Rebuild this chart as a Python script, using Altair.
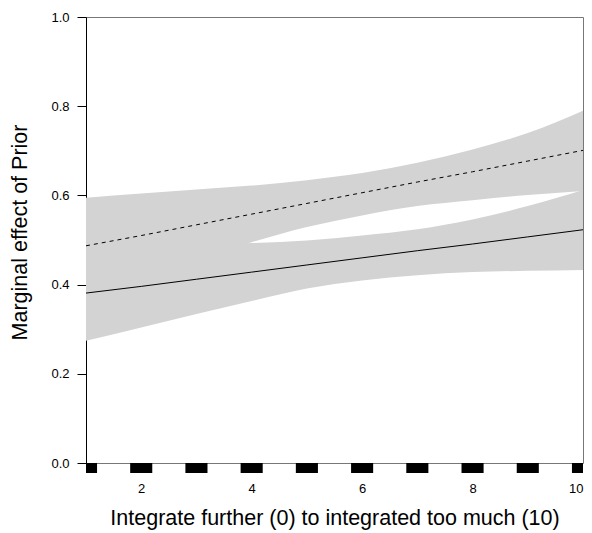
import altair as alt
import pandas as pd

# ---- data ----
x_vals = [1, 2, 3, 4, 5, 6, 7, 8, 9, 10]
solid_fit = [0.381, 0.396, 0.412, 0.428, 0.444, 0.460, 0.476, 0.491, 0.507, 0.523]
solid_lo = [0.274, 0.304, 0.334, 0.363, 0.391, 0.409, 0.421, 0.428, 0.431, 0.433]
solid_hi = [0.488, 0.487, 0.489, 0.493, 0.499, 0.510, 0.524, 0.546, 0.576, 0.612]
dashed_fit = [0.487, 0.510, 0.534, 0.558, 0.582, 0.606, 0.630, 0.653, 0.677, 0.701]
dashed_lo = [0.378, 0.419, 0.458, 0.495, 0.529, 0.555, 0.576, 0.589, 0.601, 0.610]
dashed_hi = [0.595, 0.604, 0.613, 0.622, 0.634, 0.650, 0.673, 0.703, 0.740, 0.790]
rug_x = [1, 2, 3, 4, 5, 6, 7, 8, 9, 10]
x_ticks = [2, 4, 6, 8, 10]
y_ticks = [0.0, 0.2, 0.4, 0.6, 0.8, 1.0]

x_title = "Integrate further (0) to integrated too much (10)"
y_title = "Marginal effect of Prior"

FONT = "Liberation Sans"
BAND = "#D3D3D3"
FRAME = "#777777"
JIT = 0.2

df_solid = pd.DataFrame({"x": x_vals, "fit": solid_fit, "lo": solid_lo, "hi": solid_hi})
df_dashed = pd.DataFrame({"x": x_vals, "fit": dashed_fit, "lo": dashed_lo, "hi": dashed_hi})
df_rug = pd.DataFrame({"c": rug_x})

xscale = alt.Scale(domain=[1, 10], nice=False, zero=False)
yscale = alt.Scale(domain=[0, 1], nice=False)

xaxis = alt.Axis(
    values=x_ticks, title=x_title, ticks=False, tickSize=0, domain=False, grid=False,
    labelFont=FONT, labelFontSize=13, labelColor="black", labelPadding=19,
    titleFont=FONT, titleFontSize=21.5, titleFontWeight="normal", titleColor="black",
    titlePadding=12,
)
yaxis = alt.Axis(
    values=y_ticks, format=".1f", title=y_title, grid=False,
    domainColor="black", domainWidth=1,
    tickSize=9, tickWidth=1, tickColor="black",
    labelFont=FONT, labelFontSize=13, labelColor="black", labelPadding=8,
    titleFont=FONT, titleFontSize=21.5, titleFontWeight="normal", titleColor="black",
    titlePadding=19, titleY=215,
)

base_solid = alt.Chart(df_solid)
base_dashed = alt.Chart(df_dashed)

band_s = base_solid.mark_area(color=BAND, opacity=1, interpolate="monotone").encode(
    x=alt.X("x:Q", scale=xscale, axis=xaxis),
    y=alt.Y("lo:Q", scale=yscale, axis=yaxis),
    y2="hi:Q",
)
band_d = base_dashed.mark_area(color=BAND, opacity=1, interpolate="monotone").encode(
    x=alt.X("x:Q", scale=xscale, axis=xaxis),
    y=alt.Y("lo:Q", scale=yscale, axis=yaxis),
    y2="hi:Q",
)
line_s = base_solid.mark_line(color="black", strokeWidth=1).encode(
    x=alt.X("x:Q", scale=xscale, axis=xaxis),
    y=alt.Y("fit:Q", scale=yscale, axis=yaxis),
)
line_d = base_dashed.mark_line(color="black", strokeWidth=1, strokeDash=[4, 4]).encode(
    x=alt.X("x:Q", scale=xscale, axis=xaxis),
    y=alt.Y("fit:Q", scale=yscale, axis=yaxis),
)

rug = alt.Chart(df_rug).transform_calculate(
    lo=f"max(datum.c - {JIT}, 1)", hi=f"min(datum.c + {JIT}, 10)"
).mark_rect(color="black").encode(
    x=alt.X("lo:Q", scale=xscale, axis=xaxis),
    x2="hi:Q",
    y=alt.value(446),
    y2=alt.value(456),
)

chart = alt.layer(band_s, band_d, line_s, line_d, rug).properties(
    width=497, height=446,
    autosize=alt.AutoSizeParams(type="none"),
    padding={"left": 86, "top": 17, "right": 9, "bottom": 70},
    background="white",
).configure_view(stroke=FRAME, strokeWidth=1)

chart.save("out.html", embed_options={"renderer": "svg", "actions": False})
